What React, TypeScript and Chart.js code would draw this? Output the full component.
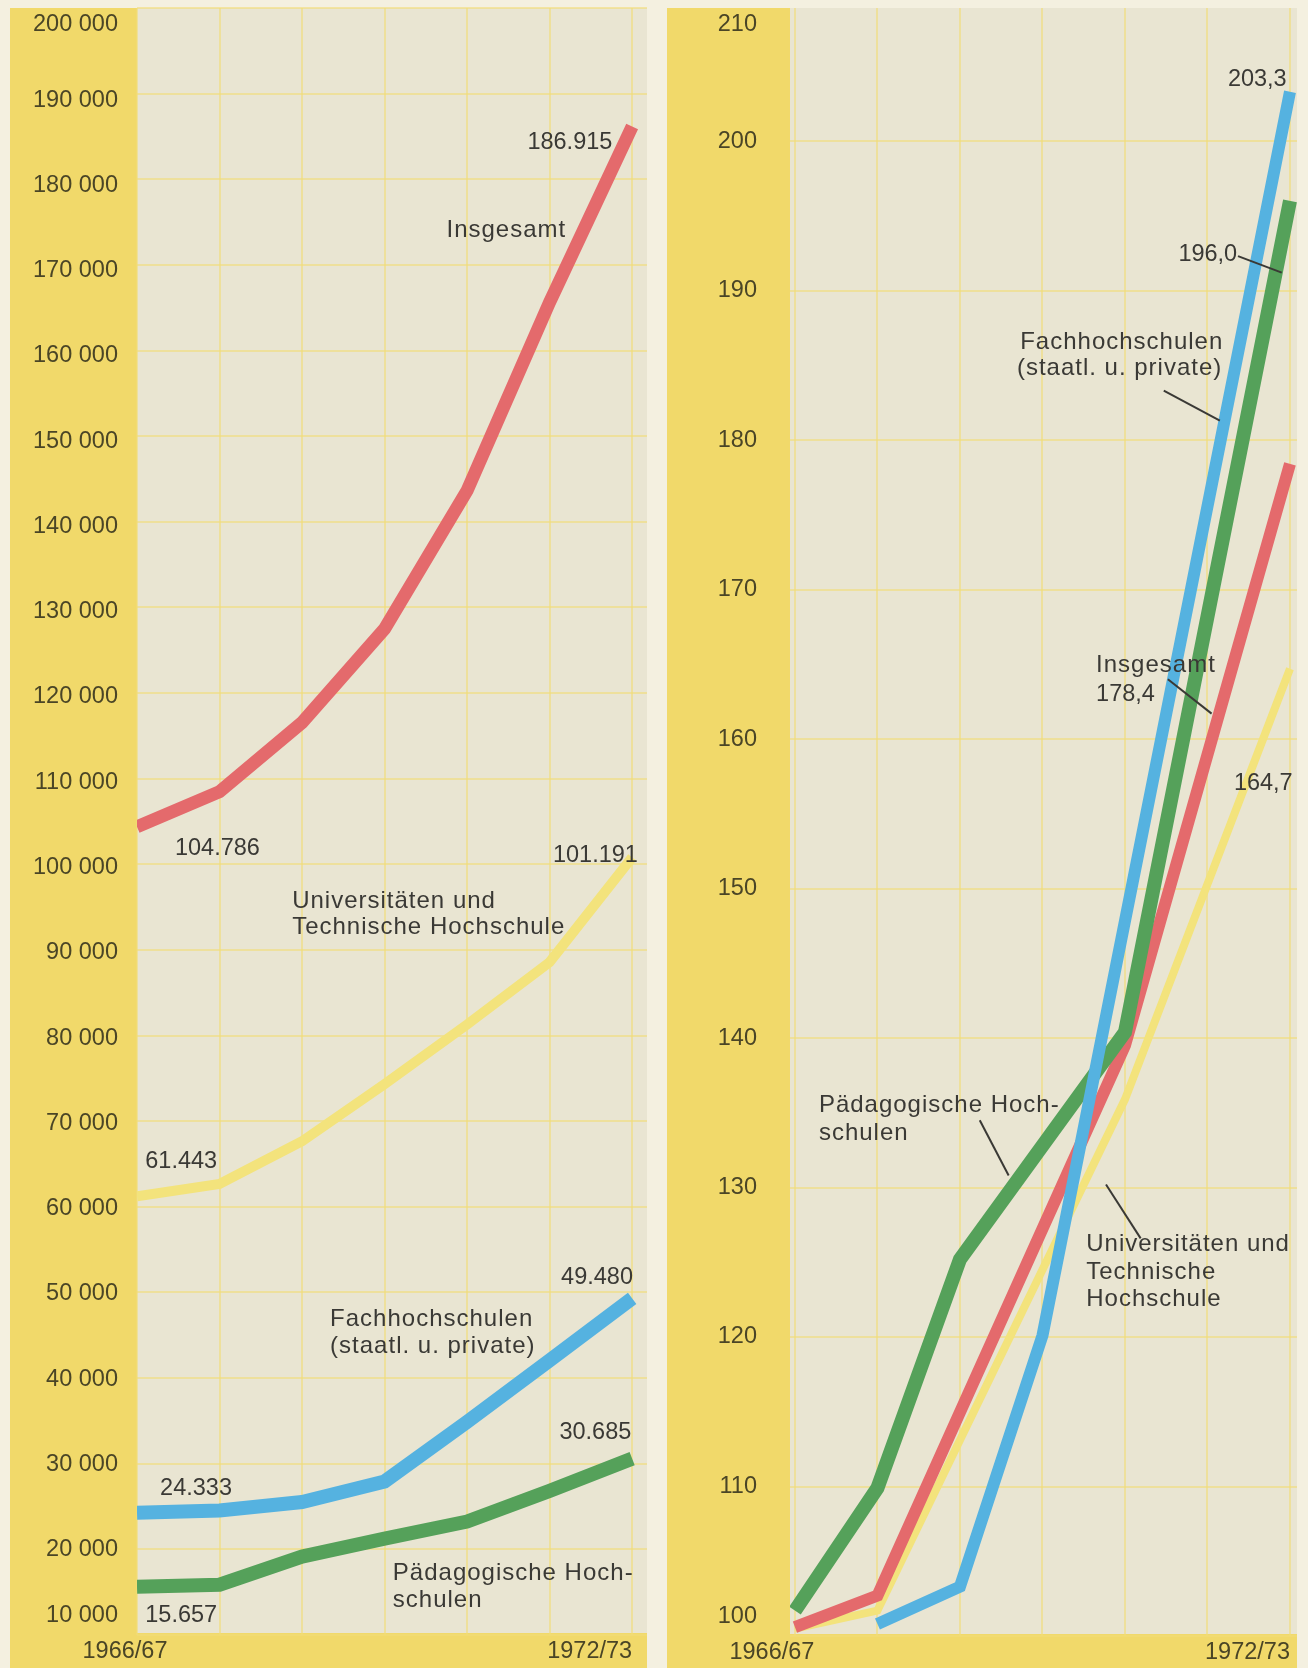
import React, { useEffect, useRef } from "react";
import { Chart, registerables } from "chart.js";

Chart.register(...registerables);

// ---------- data ----------
const years = ["1966/67", "1967/68", "1968/69", "1969/70", "1970/71", "1971/72", "1972/73"];

// left panel: students (absolute)
const absInsgesamt = [104786, 108900, 117000, 128000, 144200, 166300, 186915];
const absUniversitaeten = [61443, 62900, 67900, 74600, 81600, 88900, 101191];
const absFachhochschulen = [24333, 24600, 25600, 28000, 35000, 42200, 49480];
const absPaedagogisch = [15657, 15900, 19200, 21300, 23300, 26900, 30685];

// right panel: index 1966/67 = 100 (vertices as drawn, null = no vertex)
const idxInsgesamt = [100.6, 102.7, null, null, 139.5, null, 178.4];
const idxUniversitaeten = [100.5, 101.7, null, null, 135.9, null, 164.7];
const idxFachhochschulen = [null, 100.8, 103.3, 120.1, null, null, 203.3];
const idxPaedagogisch = [101.7, 109.9, 125.2, null, 140.4, null, 196.0];

const leftTickValues = [10000, 20000, 30000, 40000, 50000, 60000, 70000, 80000, 90000, 100000,
  110000, 120000, 130000, 140000, 150000, 160000, 170000, 180000, 190000, 200000];
const leftTickLabels = ["10 000", "20 000", "30 000", "40 000", "50 000", "60 000", "70 000", "80 000",
  "90 000", "100 000", "110 000", "120 000", "130 000", "140 000", "150 000", "160 000", "170 000",
  "180 000", "190 000", "200 000"];
const rightTickValues = [100, 110, 120, 130, 140, 150, 160, 170, 180, 190, 200, 210];
const rightTickLabels = ["100", "110", "120", "130", "140", "150", "160", "170", "180", "190", "200", "210"];

// ---------- annotations (data coordinates) ----------
type Lbl = { text: string; x: number; y: number; align: "left" | "right"; word?: boolean };
const leftLabels: Lbl[] = [
  { text: "186.915", x: 5.76, y: 184970, align: "right" },
  { text: "Insgesamt", x: 3.75, y: 174770, align: "left", word: true },
  { text: "104.786", x: 0.46, y: 102180, align: "left" },
  { text: "101.191", x: 6.07, y: 101360, align: "right" },
  { text: "Universitäten und", x: 1.88, y: 96080, align: "left", word: true },
  { text: "Technische Hochschule", x: 1.88, y: 93030, align: "left", word: true },
  { text: "61.443", x: 0.1, y: 65470, align: "left" },
  { text: "49.480", x: 6.01, y: 51980, align: "right" },
  { text: "Fachhochschulen", x: 2.34, y: 47060, align: "left", word: true },
  { text: "(staatl. u. private)", x: 2.34, y: 43890, align: "left", word: true },
  { text: "30.685", x: 5.99, y: 33690, align: "right" },
  { text: "24.333", x: 0.28, y: 27120, align: "left" },
  { text: "Pädagogische Hoch-", x: 3.1, y: 17270, align: "left", word: true },
  { text: "schulen", x: 3.1, y: 14100, align: "left", word: true },
  { text: "15.657", x: 0.1, y: 12230, align: "left" },
];
const rightLabels: Lbl[] = [
  { text: "203,3", x: 5.96, y: 204.1, align: "right" },
  { text: "196,0", x: 5.36, y: 192.4, align: "right" },
  { text: "Fachhochschulen", x: 2.73, y: 186.5, align: "left", word: true },
  { text: "(staatl. u. private)", x: 2.69, y: 184.8, align: "left", word: true },
  { text: "Insgesamt", x: 3.65, y: 164.9, align: "left", word: true },
  { text: "178,4", x: 3.65, y: 163.0, align: "left" },
  { text: "164,7", x: 5.32, y: 157.0, align: "left" },
  { text: "Pädagogische Hoch-", x: 0.29, y: 135.5, align: "left", word: true },
  { text: "schulen", x: 0.29, y: 133.6, align: "left", word: true },
  { text: "Universitäten und", x: 3.53, y: 126.2, align: "left", word: true },
  { text: "Technische", x: 3.53, y: 124.3, align: "left", word: true },
  { text: "Hochschule", x: 3.53, y: 122.5, align: "left", word: true },
];
const rightPointers = [
  [5.37, 192.3, 5.9, 191.2],
  [4.47, 183.3, 5.15, 181.3],
  [4.52, 164.0, 5.05, 161.7],
  [2.24, 134.5, 2.59, 130.8],
  [3.77, 130.2, 4.19, 126.6],
];

// ---------- styles ----------
const PAPER = "#F4F0E0";
const PLOT = "#E9E5D2";
const YELLOW = "#F1D96A";
const GRID = "rgba(242, 220, 120, 0.6)";
const TEXT = "#3a3935";
const TICK = "#4a4526";
const NUM_FONT = '23.5px "Liberation Sans", Arial, sans-serif';
const WORD_FONT = '24px "Liberation Sans", Arial, sans-serif';

const RED = "#E46A6C";
const BLUE = "#55B2E0";
const GREEN = "#55A15A";
const LYELLOW = "#F3E37C";

function toPoints(arr: (number | null)[]) {
  return arr
    .map((v, i) => (v == null ? null : { x: i, y: v }))
    .filter((p) => p !== null) as { x: number; y: number }[];
}

type PanelCfg = {
  width: number;
  height: number;
  pad: { left: number; right: number; top: number; bottom: number };
  stripLeft: number;
  xMin: number;
  xMax: number;
  yMin: number;
  yMax: number;
  yStep: number;
  tickValues: number[];
  tickLabels: string[];
  tickOffset: number;
  firstYearShift: number;
  series: { data: (number | null)[]; color: string; width: number }[];
  labels: Lbl[];
  pointers: number[][];
};

function makeChart(canvas: HTMLCanvasElement, cfg: PanelCfg) {
  const bgPlugin = {
    id: "bg",
    beforeDraw(chart: any) {
      const { ctx, chartArea } = chart;
      const { left, right, top, bottom } = chartArea;
      ctx.save();
      ctx.fillStyle = PAPER;
      ctx.fillRect(0, 0, cfg.width, cfg.height);
      ctx.fillStyle = PLOT;
      ctx.fillRect(left, top, right - left, bottom - top);
      ctx.fillStyle = YELLOW;
      ctx.fillRect(cfg.stripLeft, top, left - cfg.stripLeft, bottom - top);
      ctx.fillRect(cfg.stripLeft, bottom - 2, right - cfg.stripLeft, cfg.height - bottom + 2);
      ctx.restore();
    },
    afterDraw(chart: any) {
      const { ctx, chartArea } = chart;
      const xs = chart.scales.x;
      const ys = chart.scales.y;
      ctx.save();
      ctx.textBaseline = "middle";
      // y tick labels
      ctx.font = NUM_FONT;
      ctx.fillStyle = TICK;
      ctx.textAlign = "right";
      cfg.tickValues.forEach((v, i) => {
        let py = ys.getPixelForValue(v);
        py = Math.max(chartArea.top + 17, Math.min(chartArea.bottom - 19, py));
        ctx.fillText(cfg.tickLabels[i], chartArea.left - cfg.tickOffset, py);
      });
      // year labels
      const yearY = chartArea.bottom + 17;
      ctx.textAlign = "center";
      ctx.fillText(years[0], xs.getPixelForValue(0) + cfg.firstYearShift, yearY);
      ctx.textAlign = "right";
      ctx.fillText(years[years.length - 1], xs.getPixelForValue(years.length - 1), yearY);
      // pointers
      ctx.strokeStyle = "#3a3935";
      ctx.lineWidth = 2;
      cfg.pointers.forEach((p) => {
        ctx.beginPath();
        ctx.moveTo(xs.getPixelForValue(p[0]), ys.getPixelForValue(p[1]));
        ctx.lineTo(xs.getPixelForValue(p[2]), ys.getPixelForValue(p[3]));
        ctx.stroke();
      });
      // labels
      ctx.fillStyle = TEXT;
      cfg.labels.forEach((l) => {
        ctx.font = l.word ? WORD_FONT : NUM_FONT;
        (ctx as any).letterSpacing = l.word ? "1px" : "0px";
        ctx.textAlign = l.align;
        ctx.fillText(l.text, xs.getPixelForValue(l.x), ys.getPixelForValue(l.y));
      });
      (ctx as any).letterSpacing = "0px";
      ctx.restore();
    },
  };

  return new Chart(canvas, {
    type: "line",
    data: {
      datasets: cfg.series.map((s) => ({
        data: toPoints(s.data),
        borderColor: s.color,
        backgroundColor: s.color,
        borderWidth: s.width,
        pointRadius: 0,
        tension: 0,
        fill: false,
        borderCapStyle: "butt",
        borderJoinStyle: "miter",
      })) as any,
    },
    options: {
      responsive: false,
      animation: false,
      devicePixelRatio: 1,
      events: [],
      layout: { padding: cfg.pad },
      plugins: { legend: { display: false }, tooltip: { enabled: false } },
      scales: {
        x: {
          type: "linear",
          min: cfg.xMin,
          max: cfg.xMax,
          ticks: { display: false, stepSize: 1, includeBounds: false },
          grid: { color: GRID, lineWidth: 2, drawTicks: false },
          border: { display: false },
          afterFit: (s: any) => {
            s.height = 0;
          },
        },
        y: {
          type: "linear",
          min: cfg.yMin,
          max: cfg.yMax,
          ticks: { display: false, stepSize: cfg.yStep, includeBounds: false },
          grid: { color: GRID, lineWidth: 2, drawTicks: false },
          border: { display: false },
          afterFit: (s: any) => {
            s.width = 0;
          },
        },
      },
    } as any,
    plugins: [bgPlugin],
  });
}

const leftCfg: PanelCfg = {
  width: 660,
  height: 1668,
  pad: { left: 137, right: 13, top: 8, bottom: 33 },
  stripLeft: 10,
  xMin: 0,
  xMax: 6.18,
  yMin: 10000,
  yMax: 200800,
  yStep: 10000,
  tickValues: leftTickValues,
  tickLabels: leftTickLabels,
  tickOffset: 19,
  firstYearShift: -12,
  series: [
    { data: absFachhochschulen, color: BLUE, width: 14 },
    { data: absPaedagogisch, color: GREEN, width: 14 },
    { data: absInsgesamt, color: RED, width: 13 },
    { data: absUniversitaeten, color: LYELLOW, width: 10 },
  ],
  labels: leftLabels,
  pointers: [],
};

const rightCfg: PanelCfg = {
  width: 648,
  height: 1668,
  pad: { left: 130, right: 11, top: 8, bottom: 32 },
  stripLeft: 7,
  xMin: -0.06,
  xMax: 6.085,
  yMin: 100,
  yMax: 208.9,
  yStep: 10,
  tickValues: rightTickValues,
  tickLabels: rightTickLabels,
  tickOffset: 33,
  firstYearShift: -23,
  series: [
    { data: idxFachhochschulen, color: BLUE, width: 12 },
    { data: idxPaedagogisch, color: GREEN, width: 14 },
    { data: idxInsgesamt, color: RED, width: 12 },
    { data: idxUniversitaeten, color: LYELLOW, width: 8 },
  ],
  labels: rightLabels,
  pointers: rightPointers,
};

export default function App() {
  const leftRef = useRef<HTMLCanvasElement>(null);
  const rightRef = useRef<HTMLCanvasElement>(null);

  useEffect(() => {
    const a = makeChart(leftRef.current!, leftCfg);
    const b = makeChart(rightRef.current!, rightCfg);
    return () => {
      a.destroy();
      b.destroy();
    };
  }, []);

  return (
    <div
      style={{
        position: "absolute",
        left: 0,
        top: 0,
        width: 1308,
        height: 1668,
        background: PAPER,
        overflow: "hidden",
      }}
    >
      <canvas
        ref={leftRef}
        width={660}
        height={1668}
        style={{ position: "absolute", left: 0, top: 0, width: 660, height: 1668, display: "block" }}
      />
      <canvas
        ref={rightRef}
        width={648}
        height={1668}
        style={{ position: "absolute", left: 660, top: 0, width: 648, height: 1668, display: "block" }}
      />
    </div>
  );
}
